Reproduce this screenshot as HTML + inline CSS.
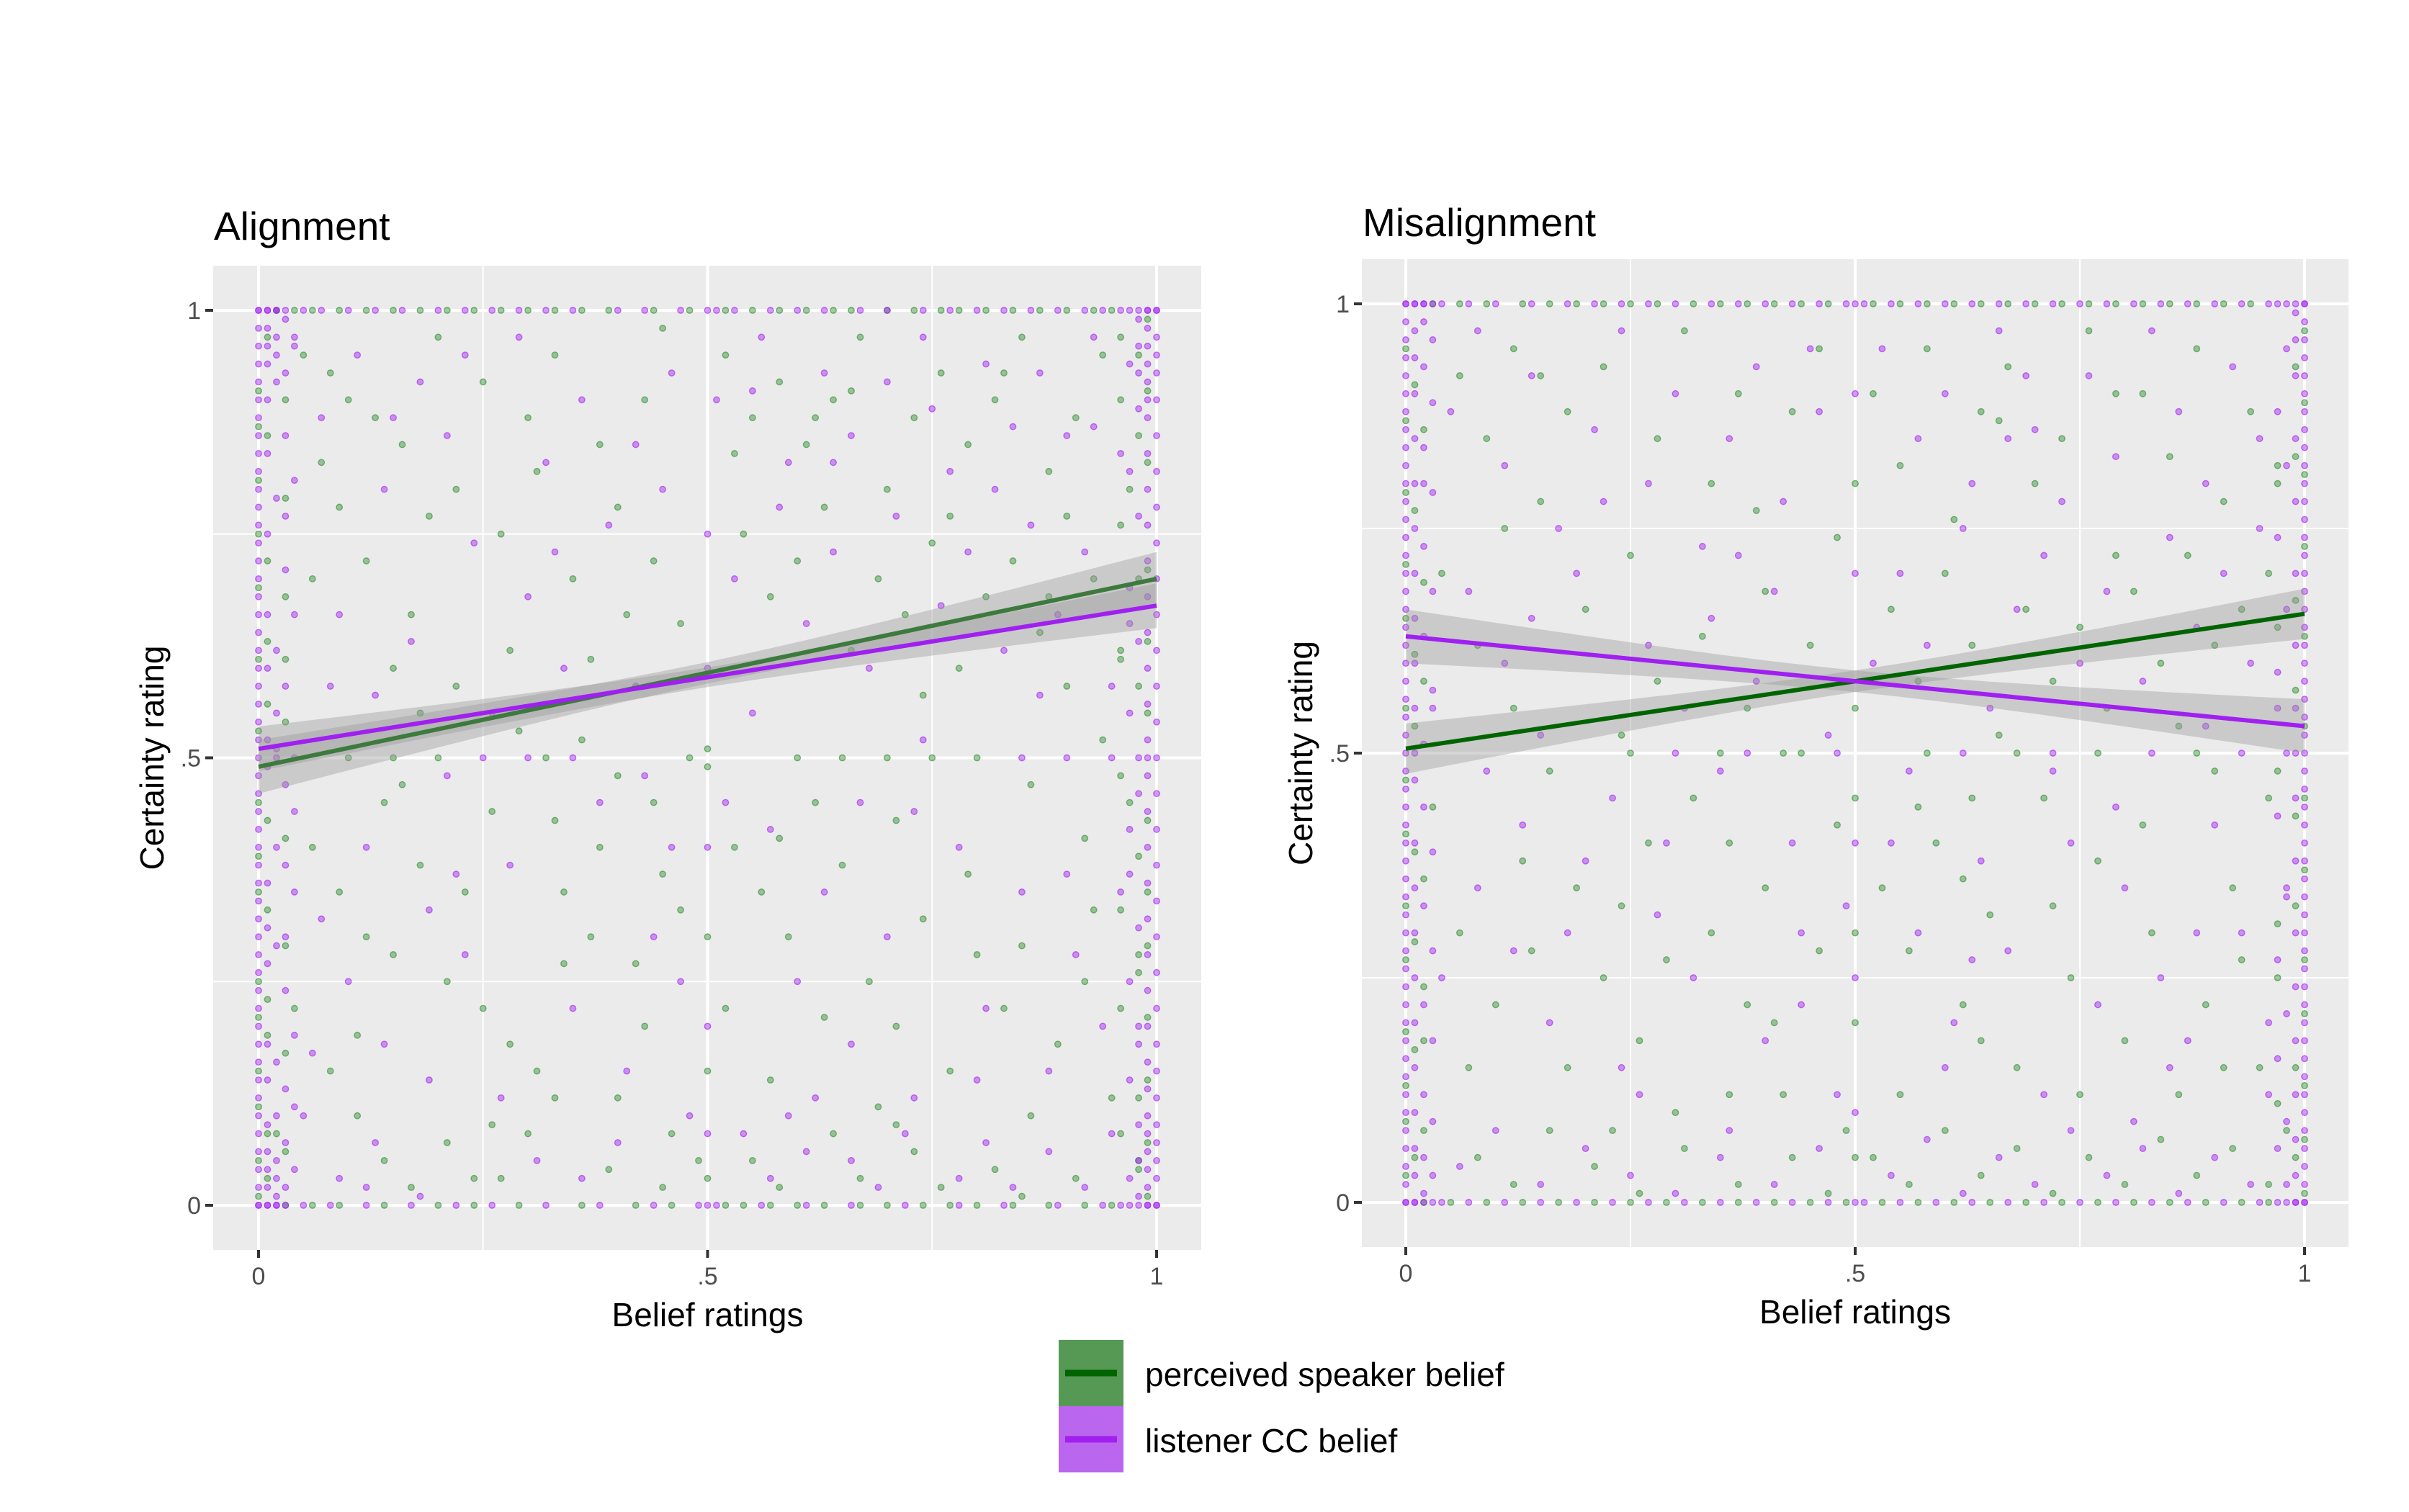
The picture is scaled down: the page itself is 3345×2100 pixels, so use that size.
<!DOCTYPE html>
<html><head><meta charset="utf-8"><style>
body{margin:0;background:#fff;}
svg{display:block;font-family:"Liberation Sans",Arial,sans-serif;}
</style></head><body>
<svg id="chart" width="3345" height="2100" viewBox="0 0 3345 2100" xmlns="http://www.w3.org/2000/svg">
<rect width="3345" height="2100" fill="#fff"/>
<g id="left"></g>
<g id="right"></g>
<g>
<rect x="1470" y="1861" width="90" height="92" fill="#559955"/>
<rect x="1470" y="1953" width="90" height="92" fill="#bb66ee"/>
<line x1="1479" y1="1907" x2="1551" y2="1907" stroke="#006400" stroke-width="9"/>
<line x1="1479" y1="1999" x2="1551" y2="1999" stroke="#a020f0" stroke-width="9"/>
<text x="1590" y="1925" font-size="46">perceived speaker belief</text>
<text x="1590" y="2017" font-size="46">listener CC belief</text>
</g>
</svg>
<script>
// ---- data (percent units) ----
const tickLabels = ["0", ".5", "1"];
const tickValues = [0, 0.5, 1];
const panelTitles = ["Alignment", "Misalignment"];
// regression fits: intercept, slope, se at ends, se at middle
const leftGreenFit = [0.49, 0.21, 0.030, 0.012];
const leftPurpleFit = [0.51, 0.16, 0.025, 0.011];
const rightGreenFit = [0.505, 0.15, 0.028, 0.012];
const rightPurpleFit = [0.63, -0.10, 0.030, 0.012];
// interior scatter points "x,y"
const leftGreenPts = "5,95 8,93 10,90 13,88 16,85 20,97 22,80 25,92 27,75 30,88 33,95 35,70 38,85 40,78 43,90 45,98 47,65 12,72 15,60 18,55 22,58 28,62 32,50 36,52 40,48 44,45 48,50 6,40 9,35 12,30 15,28 18,38 21,25 25,22 28,18 31,15 34,35 37,30 40,12 43,20 46,8 49,5 8,15 11,10 14,5 17,2 24,3 27,3 30,8 33,12 39,4 45,2 52,95 55,88 58,92 61,85 64,90 67,97 70,80 73,88 76,93 79,85 82,90 85,97 88,82 91,88 94,95 97,80 54,75 57,68 60,72 63,78 66,62 69,70 72,66 75,74 78,60 81,68 84,72 87,64 90,58 93,70 96,62 53,40 56,35 59,30 62,45 65,38 68,25 71,20 74,32 77,15 80,28 83,22 86,10 89,18 92,25 95,12 98,5 55,5 58,2 64,8 67,3 73,6 76,2 82,4 85,1 91,3 50,51 50,49 50,30 50,15 50,3 10,50 15,50 20,50 60,50 65,50 70,50 75,50 80,50 7,83 19,77 26,44 34,27 41,66 47,33 57,14 63,21 71,43 79,37 86,47 93,33 3,61 4,22 2,8 96,90 97,45 98,28 6,70 14,45 23,35 31,82 44,72 62,88 77,77 88,68 92,41 69,11 52,22 38,40 9,78 17,66 29,53 37,61 45,37 53,84 66,91 74,57 83,93 90,77 11,19 21,7 33,43 42,27 58,41 71,9 85,29 94,52 16,47 26,9";
const leftPurplePts = "4,97 7,88 11,95 14,80 18,92 21,86 24,74 29,97 32,83 36,90 39,76 42,85 46,93 9,66 13,57 17,63 21,48 26,55 30,68 34,60 38,45 42,58 46,40 7,32 10,25 14,18 19,33 23,28 27,12 31,5 35,22 41,15 44,30 48,10 5,10 9,3 13,7 18,1 51,90 56,97 59,83 63,93 66,86 70,92 74,97 77,82 81,94 84,87 87,93 90,86 93,97 96,84 53,70 58,78 61,65 64,73 68,60 71,77 76,67 79,73 83,62 86,76 89,66 92,73 95,58 52,45 57,42 60,25 63,35 66,18 70,30 73,12 78,40 81,22 85,35 88,15 91,28 94,20 97,42 54,8 57,3 62,12 66,5 69,2 72,8 78,3 81,7 84,2 88,6 92,2 95,8 50,60 50,75 50,40 50,20 50,8 25,50 30,50 35,50 85,50 90,50 95,50 3,77 4,44 2,55 3,30 96,35 97,65 98,18 12,40 28,38 45,80 55,55 67,45 74,52 82,80 61,6 40,7 8,58 15,88 22,37 33,73 43,48 55,91 64,83 73,44 87,57 93,87 6,17 19,14 36,3 47,25 59,10 80,14 90,37 12,2 23,95 75,89";
// dense edge rows: y value -> x list
const leftGreenRows = {"100":"2 4 6 9 12 15 18 21 24 27 30 33 36 39 44 48 52 55 58 61 64 66 70 73 76 78 81 84 87 90 93 95","0":"3 6 9 14 20 24 29 36 42 46 52 54 57 60 63 67 70 74 77 80 84 88 92 95"};
const leftPurpleRows = {"100":"0 1 2 3 5 7 10 13 16 20 23 26 29 32 35 40 43 47 50 51 53 57 60 63 67 70 74 77 80 83 86 89 92 94 96 97 98 99 100","0":"0 1 2 3 5 8 12 17 22 26 32 38 44 49 50 51 56 61 66 72 78 83 89 94 96 97 98 99 100"};
// dense edge columns: x value -> y list
const leftPurpleCols = {"0":"0 2 4 6 8 10 12 14 16 18 20 22 24 26 28 30 32 34 36 38 40 42 44 46 48 50 52 54 56 58 60 62 64 66 68 70 72 74 76 78 80 82 84 86 88 90 92 94 96 98 100","1":"0 2 4 6 9 14 18 27 31 36 49 52 60 66 75 84 90 94 96 98 100","2":"0 1 3 5 10 16 29 40 50 51 62 79 92 95 97 100","3":"2 7 13 24 38 47 58 71 86 93 99","4":"4 11 19 35 50 66 81 96","99":"0 2 4 6 8 10 13 16 20 24 28 32 36 40 44 48 50 52 56 60 64 68 72 76 80 84 88 90 92 94 96 98 100","100":"0 3 5 7 9 12 15 18 22 26 30 34 38 42 46 50 54 58 62 66 70 74 78 82 86 90 93 95 97 100","98":"1 5 9 20 31 46 50 63 77 89 93 96 99","97":"3 14 25 37 55 69 82 94"};
const leftGreenCols = {"0":"1 5 11 15 21 25 35 39 45 53 61 69 75 81 87 91","1":"3 8 19 23 33 43 56 63 72 86 97","3":"6 17 29 41 54 68 79 90","99":"1 7 14 21 29 35 43 55 63 71 83 91 99","98":"4 12 26 39 58 70 86 95","96":"8 22 33 48 61 76 97"};
const rightGreenPts = "6,92 9,85 12,95 15,78 18,88 22,93 25,72 28,85 31,97 34,80 37,90 40,68 43,88 46,95 8,62 12,55 16,48 20,66 24,52 28,58 32,45 36,40 40,35 44,50 48,42 6,30 10,22 14,28 18,15 22,25 26,18 30,10 34,30 38,22 42,12 46,28 49,8 8,5 12,2 16,8 21,4 26,1 31,6 37,2 43,5 47,1 52,90 55,82 58,95 61,76 64,88 67,93 70,80 73,85 76,97 79,72 82,90 85,83 88,95 91,78 94,88 97,82 54,66 57,58 60,70 63,62 66,52 69,66 72,58 75,64 78,55 81,68 84,60 87,72 90,62 93,66 96,70 53,35 56,28 59,40 62,22 65,32 68,15 71,45 74,25 77,38 80,18 83,30 86,12 89,22 92,35 95,15 52,5 56,2 60,8 64,3 68,6 72,1 76,5 80,2 84,7 88,3 92,6 96,2 50,55 50,45 50,30 50,20 50,5 50,80 25,50 35,50 42,50 58,50 68,50 77,50 88,50 3,44 4,70 2,18 96,45 97,25 98,8 11,75 19,35 27,40 39,77 45,62 55,12 63,45 72,33 82,42 90,48 36,12 64,18 7,15 13,38 23,8 29,27 33,63 41,20 48,74 57,44 66,87 75,12 86,53 93,27 15,92 24,33 38,55 62,36 79,90 91,15";
const rightPurplePts = "5,88 8,97 11,82 14,92 17,75 21,86 24,97 27,80 30,90 33,73 36,85 39,93 42,78 46,88 7,68 11,60 15,52 19,70 23,45 27,62 31,55 35,48 39,58 43,40 47,52 8,35 12,28 16,20 20,38 24,15 28,32 32,25 36,8 40,18 44,30 48,12 6,4 10,8 15,2 20,6 25,3 30,1 35,5 41,2 46,6 53,95 57,85 60,90 63,80 66,97 70,86 73,78 76,92 79,83 83,97 86,88 89,80 92,93 95,85 55,70 58,62 62,75 65,55 68,66 71,72 75,60 78,68 82,58 85,74 88,64 91,70 94,60 54,40 57,30 61,20 64,38 67,28 71,12 74,40 77,22 80,35 84,25 87,18 90,42 93,30 96,20 54,3 58,7 62,1 66,5 70,2 74,8 78,3 82,6 86,1 90,5 94,2 50,90 50,70 50,40 50,25 50,10 30,50 38,50 48,50 62,50 72,50 83,50 93,50 3,55 4,25 2,80 97,55 98,35 96,12 13,42 22,78 34,65 44,22 56,48 67,85 79,44 88,30 60,15 41,68 9,48 18,30 26,12 37,72 45,95 52,60 63,27 72,48 81,9 89,53 95,75 14,65 29,40 49,33 69,92 85,15";
const rightGreenRows = {"100":"3 6 9 13 16 19 22 25 28 32 35 38 41 44 47 52 55 58 61 64 67 70 73 76 79 82 85 88 91 94","0":"2 5 9 13 17 21 25 29 33 37 41 45 49 53 57 61 65 69 73 77 81 85 89 93 96"};
const rightPurpleRows = {"100":"0 1 2 3 4 7 10 14 18 21 24 27 30 34 37 40 43 46 49 50 51 54 57 60 63 66 69 72 75 78 81 84 87 90 93 96 97 98 99 100","0":"0 1 2 3 4 7 11 15 19 23 27 31 35 39 43 47 50 51 55 59 63 67 71 75 79 83 87 91 95 97 98 99 100"};
const rightPurpleCols = {"0":"0 2 4 6 8 10 12 14 16 18 20 22 24 26 28 30 32 34 36 38 40 42 44 46 48 50 52 54 56 58 60 62 64 66 68 70 72 74 76 78 80 82 84 86 88 90 92 94 96 98 100","1":"0 3 6 10 15 20 25 30 35 40 47 50 55 60 65 70 75 80 85 90 94 97 100","2":"1 5 12 22 33 44 51 63 73 84 93 98 100","3":"3 9 18 28 39 57 68 79 89 96","100":"0 2 4 6 8 10 12 14 16 18 20 22 24 26 28 30 32 34 36 38 40 42 44 46 48 50 52 54 56 58 60 62 64 66 68 70 72 74 76 78 80 82 84 86 88 90 92 94 96 98 100","99":"0 3 7 12 18 24 30 38 45 50 55 62 70 78 85 92 96 99","98":"2 9 21 34 50 66 82 95","97":"6 16 27 43 59 74 88"};
const rightGreenCols = {"0":"3 9 13 19 27 33 41 47 55 65 71 79 87 95","1":"5 17 29 39 53 61 77 91","2":"8 24 36 58 69 86","100":"1 7 13 21 27 37 45 53 63 73 81 89 97","99":"5 15 33 43 57 67 83 93","97":"11 31 48 64 80"};

const NS = "http://www.w3.org/2000/svg";
function mk(tag, attrs, parent){const e=document.createElementNS(NS,tag);for(const k in attrs)e.setAttribute(k,attrs[k]);parent.appendChild(e);return e;}

function drawPanel(g, P, title, gPts, pPts, gRows, pRows, gCols, pCols, gFit, pFit){
  const sx = v => P.x0 + v*(P.x1-P.x0);
  const sy = v => P.y0 - v*(P.y0-P.y1);
  const bg = mk('rect',{x:P.l,y:P.t,width:P.r-P.l,height:P.b-P.t,fill:'#ebebeb'},g);
  
  
  [0.25,0.75].forEach(v=>{
    mk('line',{x1:sx(v),x2:sx(v),y1:P.t,y2:P.b,stroke:'#fff','stroke-width':2},g);
    mk('line',{x1:P.l,x2:P.r,y1:sy(v),y2:sy(v),stroke:'#fff','stroke-width':2},g);
  });
  tickValues.forEach((v,i)=>{
    mk('line',{x1:sx(v),x2:sx(v),y1:P.t,y2:P.b,stroke:'#fff','stroke-width':4},g);
    mk('line',{x1:P.l,x2:P.r,y1:sy(v),y2:sy(v),stroke:'#fff','stroke-width':4},g);
    mk('line',{x1:sx(v),x2:sx(v),y1:P.b,y2:P.b+11,stroke:'#333','stroke-width':4},g);
    mk('line',{x1:P.l-11,x2:P.l,y1:sy(v),y2:sy(v),stroke:'#333','stroke-width':4},g);
    const tx = mk('text',{x:sx(v),y:P.b+48,'font-size':34,fill:'#4d4d4d','text-anchor':'middle'},g);
    tx.textContent = tickLabels[i];
    
    
    const ty = mk('text',{x:P.l-17,y:sy(v)+12,'font-size':34,fill:'#4d4d4d','text-anchor':'end'},g);
    ty.textContent = tickLabels[i];
    
    
  });
  const pts = [];
  function addPairs(s,c){s.trim().split(/\s+/).forEach(p=>{const a=p.split(',');pts.push([+a[0],+a[1],c]);});}
  function addRows(o,c){for(const y in o)o[y].trim().split(/\s+/).forEach(x=>pts.push([+x,+y,c]));}
  function addCols(o,c){for(const x in o)o[x].trim().split(/\s+/).forEach(y=>pts.push([+x,+y,c]));}
  addPairs(gPts,'g');addRows(gRows,'g');addCols(gCols,'g');
  addPairs(pPts,'p');addRows(pRows,'p');addCols(pCols,'p');
  const pg = mk('g',{},g);
  
  
  pts.forEach(p=>{
    const col = p[2]==='g' ? '#2e8b2e' : '#a020f0';
    const c = mk('circle',{cx:sx(p[0]/100),cy:sy(p[1]/100),r:4.2,fill:col,'fill-opacity':0.45,stroke:col,'stroke-opacity':0.6,'stroke-width':1.4},pg);
    
    
  });
  function band(f){
    const up=[],dn=[];
    for(let i=0;i<=20;i++){const x=i/20;const d=x-0.5;const se=Math.sqrt(f[3]*f[3]+(f[2]*f[2]-f[3]*f[3])*4*d*d);const y=f[0]+f[1]*x;up.push(sx(x)+','+sy(y+se));dn.unshift(sx(x)+','+sy(y-se));}
    return up.concat(dn).join(' ');
  }
  [[gFit,'band-speaker'],[pFit,'band-listener']].forEach(a=>{
    const b = mk('polygon',{points:band(a[0]),fill:'#999','fill-opacity':0.4},g);
    
    
  });
  const lg = mk('line',{x1:sx(0),y1:sy(gFit[0]),x2:sx(1),y2:sy(gFit[0]+gFit[1]),stroke:P.gLine,'stroke-width':6},g);
  
  
  const lp = mk('line',{x1:sx(0),y1:sy(pFit[0]),x2:sx(1),y2:sy(pFit[0]+pFit[1]),stroke:'#a020f0','stroke-width':6},g);
  
  
  const t = mk('text',{x:P.l+1,y:P.t-P.titleGap,'font-size':55},g);
  t.textContent = title;
  
  
  const xt = mk('text',{x:sx(0.5),y:P.b+106,'font-size':46,'text-anchor':'middle'},g);
  xt.textContent = 'Belief ratings';
  
  
  const cy = (P.t+P.b)/2;
  const yt = mk('text',{x:P.l-69,y:cy,'font-size':46,'text-anchor':'middle',transform:'rotate(-90 '+(P.l-69)+' '+cy+')'},g);
  yt.textContent = 'Certainty rating';
  
  
}
const LP={l:296,r:1668,t:369,b:1736,x0:359,x1:1606,y1:431,y0:1674,gLine:'#3d7a3d',titleGap:36};
const RP={l:1891,r:3261,t:360,b:1732,x0:1952,x1:3200,y1:422,y0:1670,gLine:'#006400',titleGap:32};
drawPanel(document.getElementById('left'),LP,panelTitles[0],leftGreenPts,leftPurplePts,leftGreenRows,leftPurpleRows,leftGreenCols,leftPurpleCols,leftGreenFit,leftPurpleFit);
drawPanel(document.getElementById('right'),RP,panelTitles[1],rightGreenPts,rightPurplePts,rightGreenRows,rightPurpleRows,rightGreenCols,rightPurpleCols,rightGreenFit,rightPurpleFit);
</script>
</body></html>
